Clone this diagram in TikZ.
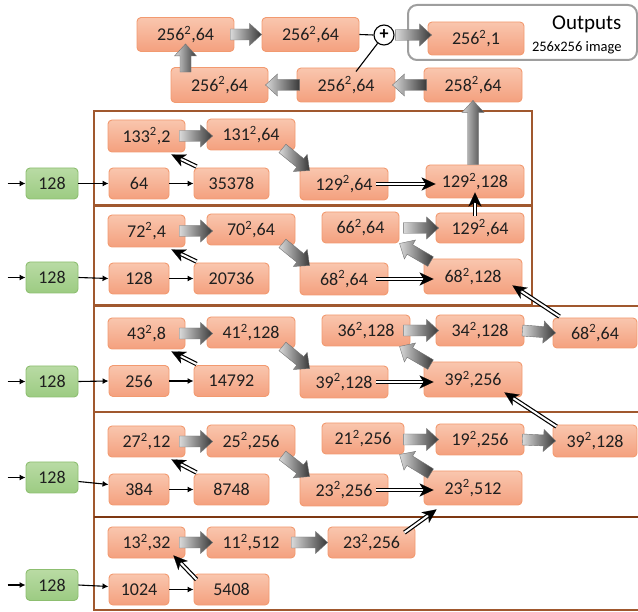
\documentclass[tikz,border=0pt]{standalone}
\usepackage{fontspec}
\setmainfont{Carlito}
\usetikzlibrary{calc,arrows.meta}
\definecolor{ndtop}{HTML}{F9C6AE}
\definecolor{ndbot}{HTML}{F4A07E}
\definecolor{ndline}{HTML}{F29A70}
\definecolor{grtop}{HTML}{B9DBA4}
\definecolor{grbot}{HTML}{9CCB82}
\definecolor{grline}{HTML}{8DBE70}
\definecolor{brn}{HTML}{A0582E}
\definecolor{brnd}{HTML}{7E3812}
\newcommand\sqr{\textsuperscript{2}}
\newcommand\bx[6]{\node[nd, minimum width=#4, minimum height=#5] (#1) at (#2,#3) {#6};}
\newcommand\gbx[3]{\node[gn, minimum width=52, minimum height=31] (#1) at (#2,#3) {128};}
\newcommand\barr[2]{%
  \path let \p1=#1, \p2=#2, \n1={atan2(\y2-\y1,\x2-\x1)}, \n2={veclen(\x2-\x1,\y2-\y1)} in \pgfextra{\xdef\barang{\n1}\xdef\barlen{\n2}};
  \shadedraw[barshade, shift={#1}, rotate=\barang] (0,-5.5) -- (\barlen-12,-5.5) -- (\barlen-12,-11) -- (\barlen,0) -- (\barlen-12,11) -- (\barlen-12,5.5) -- (0,5.5) -- cycle;
}
\newcommand\dbarr[2]{%
  \coordinate (dA) at #1;
  \coordinate (dB) at #2;
  \draw[dblline] (dA) -- ($(dB)!9pt!(dA)$);
  \draw[dbltip] ($(dB)!11pt!(dA)$) -- (dB);
}
\begin{document}
\begin{tikzpicture}[x=1pt,y=-1pt,
  nd/.style={draw=ndline, line width=0.9pt, rounded corners=4pt, top color=ndtop, bottom color=ndbot, inner sep=0pt, font=\fontsize{18}{20}\selectfont, text=black!88},
  gn/.style={draw=grline, line width=0.9pt, rounded corners=4pt, top color=grtop, bottom color=grbot, inner sep=0pt, font=\fontsize{18}{20}\selectfont, text=black!88},
  barshade/.style={left color=black!15, right color=black!78, draw=black!55, line width=0.4pt},
  dblline/.style={double=white, double distance=2pt, line width=1.2pt},
  dbltip/.style={line width=0.1pt, -{Stealth[length=14pt,width=13pt,inset=4pt]}},
  thinarr/.style={line width=1.1pt, -{Latex[length=6pt,width=6pt]}},
  frame/.style={draw=brn, line width=1.2pt},
  conn/.style={line width=1.1pt, black}
]
\useasboundingbox (0,0) rectangle (638,612);

% frames
\draw[frame] (94,111) rectangle (532,205);
\draw[frame] (94,206.5) rectangle (532,305);
\draw[frame] (638,306) -- (94,306) -- (94,610) -- (638,610);
\draw[frame] (94,412) -- (638,412);
\draw[draw=brnd, line width=2.2pt] (94,517) -- (638,517);

% outputs box
\draw[draw=black!38, line width=2pt, rounded corners=9pt] (408,5) rectangle (637,60);
\node[anchor=base east, font=\fontsize{21}{24}\selectfont] (outt) at (625,30) {Outputs};
\node[anchor=base east, font=\fontsize{14.5}{16}\selectfont] (outs) at (625,52) {256x256 image};

% top nodes
\bx{A1}{185.5}{34.5}{97}{34}{256\sqr,64}
\bx{A2}{310.5}{34.5}{97}{34}{256\sqr,64}
\bx{A3}{476}{38.5}{96}{33}{256\sqr,1}
\bx{B1}{219.5}{85}{97}{35}{256\sqr,64}
\bx{B2}{346}{85}{98}{34}{256\sqr,64}
\bx{B3}{473}{85}{98}{34}{258\sqr,64}
\node[circle, draw, line width=1.1pt, fill=white, minimum size=20pt, inner sep=0pt, font=\bfseries\fontsize{18}{18}\selectfont] (plus) at (384,35) {+};

% band 1
\gbx{g1}{52}{183.5}
\bx{p1}{139}{183.5}{60}{31}{64}
\bx{q1}{231.5}{183.5}{75}{31}{35378}
\bx{u1a}{146.5}{136}{77}{32}{133\sqr,2}
\bx{u1b}{251}{134.5}{88}{31}{131\sqr,64}
\bx{l1c}{344}{184}{88}{32}{129\sqr,64}
\bx{l1d}{475}{181.5}{98}{33}{129\sqr,128}

% band 2
\gbx{g2}{52}{277.5}
\bx{p2}{139}{278.5}{60}{31}{128}
\bx{q2}{231.5}{278.5}{75}{31}{20736}
\bx{u2a}{146.5}{231}{77}{32}{72\sqr,4}
\bx{u2b}{251}{229.5}{88}{31}{70\sqr,64}
\bx{l2c}{344}{279}{88}{32}{68\sqr,64}
\bx{l2d}{473}{276.5}{98}{35}{68\sqr,128}
\bx{u2e}{360.5}{227.5}{77}{31}{66\sqr,64}
\bx{u2f}{480}{228}{88}{30}{129\sqr,64}

% band 3
\gbx{g3}{52}{381.5}
\bx{p3}{139}{381}{60}{31}{256}
\bx{q3}{231.5}{381}{75}{31}{14792}
\bx{u3a}{146.5}{333.5}{77}{31}{43\sqr,8}
\bx{u3b}{251}{332.5}{88}{31}{41\sqr,128}
\bx{l3c}{344}{382}{88}{32}{39\sqr,128}
\bx{l3d}{473}{379.5}{98}{35}{39\sqr,256}
\bx{u3e}{366}{330.5}{88}{31}{36\sqr,128}
\bx{u3f}{480}{330.5}{88}{31}{34\sqr,128}
\bx{u3g}{595}{333}{84}{30}{68\sqr,64}

% band 4
\gbx{g4}{52}{477.5}
\bx{p4}{139}{489.5}{60}{31}{384}
\bx{q4}{231.5}{489.5}{75}{31}{8748}
\bx{u4a}{146.5}{441.5}{77}{31}{27\sqr,12}
\bx{u4b}{251}{441}{88}{32}{25\sqr,256}
\bx{l4c}{344}{490}{88}{32}{23\sqr,256}
\bx{l4d}{473}{488}{98}{34}{23\sqr,512}
\bx{u4e}{363}{438.5}{82}{31}{21\sqr,256}
\bx{u4f}{480}{439.5}{88}{31}{19\sqr,256}
\bx{u4g}{595}{441}{84}{32}{39\sqr,128}

% band 5
\gbx{g5}{52}{585}
\bx{p5}{139}{589.5}{60}{31}{1024}
\bx{q5}{231.5}{589.5}{75}{31}{5408}
\bx{u5a}{146.5}{542.5}{77}{31}{13\sqr,32}
\bx{u5b}{251}{542.5}{88}{31}{11\sqr,512}
\bx{u5c}{371.5}{542.5}{87}{31}{23\sqr,256}

% top connectors
\barr{($(A1.east)+(-4,0)$)}{(A2.west)}
\draw[conn] (A2.east) -- (plus.west);
\draw[conn] ($(B2.north)+(10,4)$) -- (plus);
\barr{($(plus.east)+(1,0)$)}{($(A3.west |- plus)+(4,0)$)}
\barr{($(B3.west)+(3,0)$)}{($(B2.east)+(-3,0)$)}
\barr{($(B2.west)+(3,0)$)}{($(B1.east)+(-3,0)$)}
\barr{($(B1.north -| A1.south)+(0,5)$)}{($(A1.south)+(0,-8)$)}
\barr{($(l1d.north)+(-2,0)$)}{($(B3.south)+(0,-2)$)}

% entry arrows
\foreach \i in {1,2,3,4,5}{
  \coordinate (e\i) at ($(g\i.west)+(-18,0)$);
  \draw[thinarr] (e\i) -- (g\i.west);
  \draw[thinarr] (p\i.east) -- (q\i.west);
}
\draw[thinarr] (g1.east) -- (p1.west);
\draw[thinarr] (g2.east) -- (p2.west);
\draw[thinarr] (g3.east) -- (p3.west);
\draw[thinarr] ($(g4.east)+(0,4)$) -- ($(p4.west)+(0,-5)$);
\draw[thinarr] (g5.east) -- ($(p5.west)+(0,-3)$);

% band internal arrows
\foreach \i in {1,2,3,4}{
  \dbarr{($(q\i.north west)+(3,-1)$)}{($(u\i a.south east)+(-14,2)$)}
  \barr{($(u\i a.east)+(-6,0)$)}{($(u\i b.west |- u\i a.east)+(6,0)$)}
  \barr{($(u\i b.south east)+(-13,-2)$)}{($(l\i c.north west)+(10,3)$)}
  \dbarr{($(l\i c.east)+(-12,0)$)}{($(l\i d.west |- l\i c.east)+(10,0)$)}
}
\foreach \i in {2,3,4}{
  \barr{($(u\i f.west)+(-32,0)$)}{($(u\i f.west)+(3,0)$)}
  \barr{($(l\i d.north west)+(7,3)$)}{($(u\i e.south west)+(78,0)$)}
}
\barr{($(u3f.east)+(-2,0)$)}{($(u3g.west)+(3,0)$)}
\barr{($(u4f.east)+(-2,0)$)}{($(u4g.west)+(3,0)$)}
\dbarr{($(l1d.south |- u2f.north)+(0,3)$)}{($(l1d.south)+(0,-6)$)}
\dbarr{($(u3g.north west)+(7,-1)$)}{($(l2d.south east)+(-10,-9)$)}
\dbarr{($(u4g.north west)+(4,2)$)}{($(l3d.south east)+(-18,-5)$)}
\dbarr{($(u5c.north east)+(-11,6)$)}{($(l4d.south west)+(13,4)$)}

% band 5 arrows
\dbarr{($(q5.north west)+(3,6)$)}{($(u5a.south east)+(-12,-3)$)}
\barr{($(u5a.east)+(-6,0)$)}{($(u5b.west)+(6,0)$)}
\barr{($(u5b.east)+(-4,0)$)}{(u5c.west)}
\end{tikzpicture}
\end{document}
